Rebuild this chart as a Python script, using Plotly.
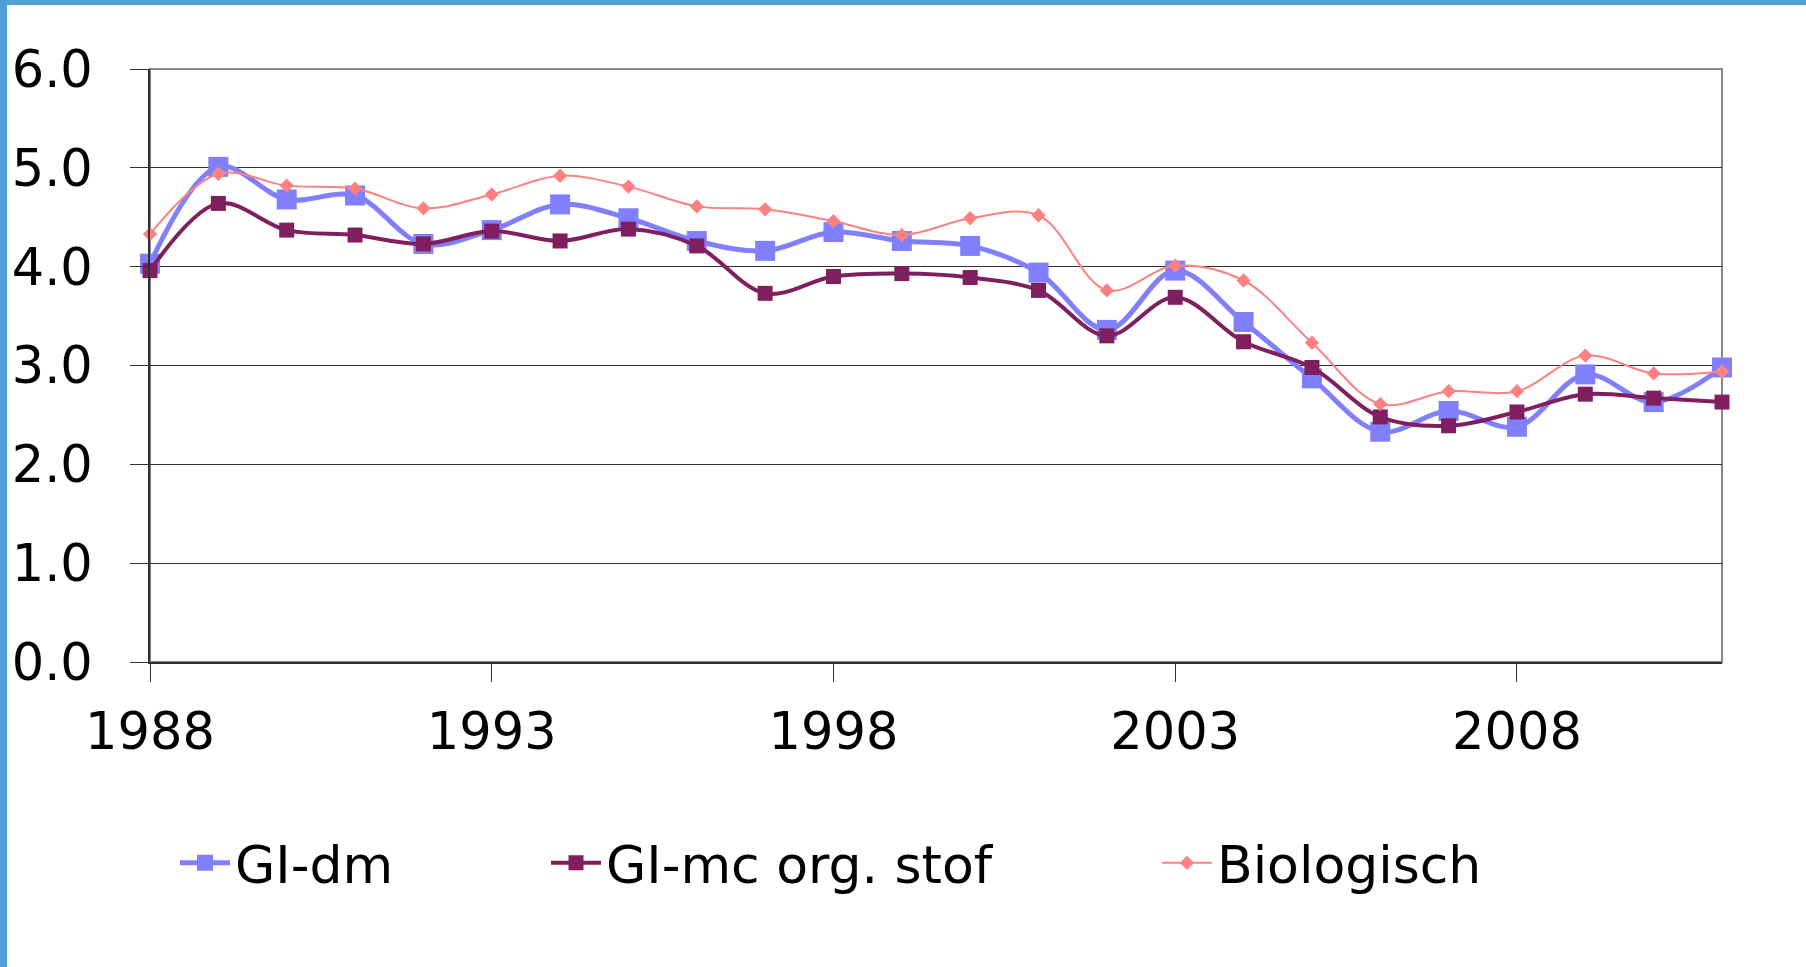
import plotly.graph_objects as go

years = list(range(1988, 2012))
gi_dm = [4.03, 5.01, 4.68, 4.72, 4.23, 4.37, 4.63, 4.49, 4.26, 4.16, 4.35, 4.26,
         4.21, 3.94, 3.36, 3.96, 3.44, 2.87, 2.33, 2.54, 2.38, 2.91, 2.63, 2.98]
gi_mc = [3.96, 4.64, 4.37, 4.32, 4.23, 4.36, 4.26, 4.38, 4.21, 3.73, 3.90, 3.93,
         3.89, 3.76, 3.30, 3.69, 3.24, 2.98, 2.48, 2.39, 2.53, 2.71, 2.67, 2.63]
bio = [4.33, 4.94, 4.82, 4.79, 4.59, 4.73, 4.92, 4.81, 4.61, 4.58, 4.46, 4.32,
       4.49, 4.52, 3.76, 4.01, 3.86, 3.23, 2.61, 2.74, 2.74, 3.10, 2.92, 2.94]
names = ["GI-dm", "GI-mc org. stof", "Biologisch"]
x_ticks = [1988, 1993, 1998, 2003, 2008]
y_ticks = [0, 1, 2, 3, 4, 5, 6]

FONT = "DejaVu Sans, Verdana, sans-serif"
W, H = 1806, 967
L, R, T, B = 150, 84, 69, 305
PW, PH = W - L - R, H - T - B

fig = go.Figure()
fig.add_trace(go.Scatter(
    x=years, y=gi_dm, name=names[0], mode="lines+markers",
    line=dict(color="#8080FF", width=5, shape="spline", smoothing=1.0),
    marker=dict(symbol="square", size=20, color="#8080FF"),
    cliponaxis=False, legend="legend"))
fig.add_trace(go.Scatter(
    x=years, y=gi_mc, name=names[1], mode="lines+markers",
    line=dict(color="#801F5F", width=4, shape="spline", smoothing=1.0),
    marker=dict(symbol="square", size=15, color="#801F5F"),
    cliponaxis=False, legend="legend2"))
fig.add_trace(go.Scatter(
    x=years, y=bio, name=names[2], mode="lines+markers",
    line=dict(color="#FF8080", width=2, shape="spline", smoothing=1.0),
    marker=dict(symbol="diamond", size=11, color="#FF8080"),
    cliponaxis=False, legend="legend3"))

def px2x(p):
    return (p - L) / PW

def px2y(p):
    return (H - B - p) / PH

leg_y = px2y(863)
def leg(xp):
    return dict(x=px2x(xp), y=leg_y, xanchor="left", yanchor="middle",
                orientation="h", font=dict(family=FONT, size=52, color="black"),
                bgcolor="rgba(0,0,0,0)", itemwidth=50)

fig.update_layout(
    width=W, height=H,
    margin=dict(l=L, r=R, t=T, b=B, autoexpand=False),
    paper_bgcolor="white", plot_bgcolor="white",
    font=dict(family=FONT, color="black"),
    showlegend=True,
    legend=leg(175), legend2=leg(546), legend3=leg(1157),
    xaxis=dict(range=[1988, 2011], tickvals=x_ticks, ticktext=[str(v) for v in x_ticks],
               automargin=False,
               showgrid=False, zeroline=False, showline=True, linecolor="#303030",
               linewidth=2, ticks="outside", ticklen=18, tickcolor="#303030", tickwidth=1,
               tickfont=dict(family=FONT, size=51, color="black"), ticklabelstandoff=6),
    yaxis=dict(range=[0, 6], tickvals=y_ticks, tickformat=".1f", automargin=False,
               showgrid=True, gridcolor="#303030", gridwidth=1, zeroline=False,
               showline=True, linecolor="#303030", linewidth=2,
               ticks="outside", ticklen=18, tickcolor="#303030", tickwidth=1,
               tickfont=dict(family=FONT, size=51, color="black"), ticklabelstandoff=27),
    shapes=[
        dict(type="rect", xref="paper", yref="paper", x0=0, x1=1, y0=0, y1=1,
             line=dict(color="#888888", width=2), layer="between"),
        dict(type="rect", xref="paper", yref="paper",
             x0=px2x(0), x1=px2x(7), y0=px2y(H), y1=px2y(0),
             fillcolor="#4F9FD8", line=dict(width=0), layer="above"),
        dict(type="rect", xref="paper", yref="paper",
             x0=px2x(0), x1=px2x(W), y0=px2y(5), y1=px2y(0),
             fillcolor="#4F9FD8", line=dict(width=0), layer="above"),
    ],
)

fig.write_html("out.html", config={"displayModeBar": False},
               post_script="document.body.style.margin='0';document.body.style.overflow='hidden';")
